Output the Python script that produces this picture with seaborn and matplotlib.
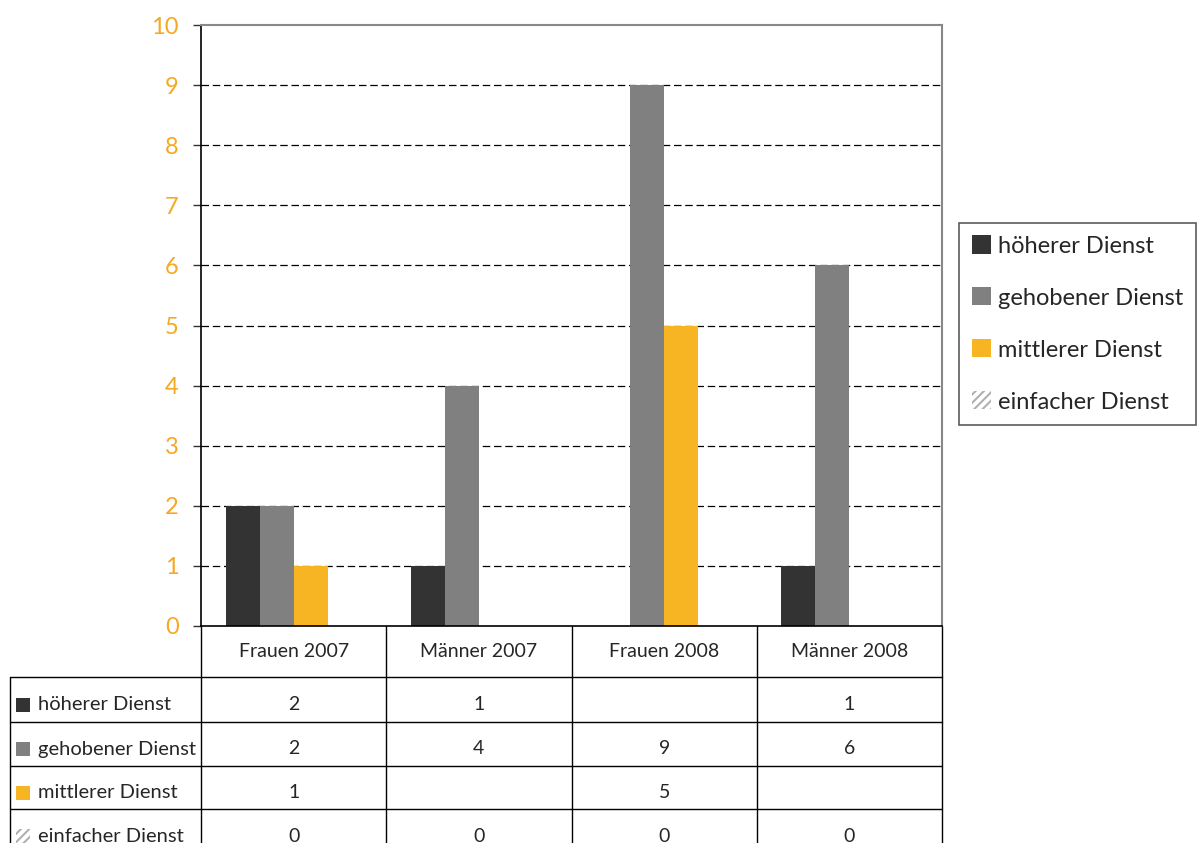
import numpy as np
import pandas as pd
import matplotlib
import matplotlib.pyplot as plt
import matplotlib.transforms as mtrans
from matplotlib.patches import Patch, Rectangle
import seaborn as sns

# data
groups = ['Frauen 2007', 'Männer 2007', 'Frauen 2008', 'Männer 2008']
levels = ['höherer Dienst', 'gehobener Dienst', 'mittlerer Dienst', 'einfacher Dienst']
hoeherer = [2, 1, np.nan, 1]
gehobener = [2, 4, 9, 6]
mittlerer = [1, np.nan, 5, np.nan]
einfacher = [0, 0, 0, 0]
y_ticks = list(range(0, 11))

colors = ['#333333', '#808080', '#F7B423', '#FFFFFF']
tick_color = '#F7A823'

sns.set_style('white')
plt.rcParams['font.family'] = ['Lato', 'DejaVu Sans']
plt.rcParams['hatch.color'] = '#B0B0B0'
plt.rcParams['hatch.linewidth'] = 1.5

rows = []
for lvl, vals in zip(levels, [hoeherer, gehobener, mittlerer, einfacher]):
    for g, v in zip(groups, vals):
        rows.append({'Gruppe': g, 'Dienst': lvl, 'Anzahl': v})
df = pd.DataFrame(rows)

fig = plt.figure(figsize=(11.97, 8.43), dpi=100)
ax = fig.add_axes([201 / 1197, 1 - 626 / 843, 741 / 1197, 601 / 843])

sns.barplot(data=df, x='Gruppe', y='Anzahl', hue='Dienst', order=groups, hue_order=levels,
            palette=colors, width=0.734, errorbar=None, legend=False, linewidth=0,
            saturation=1, ax=ax)

# hatch for einfacher Dienst bars
for cont, lvl in zip(ax.containers, levels):
    if lvl == 'einfacher Dienst':
        for bar in cont:
            bar.set_hatch('////')
            bar.set_edgecolor('#B0B0B0')
            bar.set_linewidth(0)

ax.set_xlim(-0.5, 3.5)
ax.set_ylim(0, 10)
ax.set_yticks(y_ticks)
ax.set_xticks([])
ax.set_xlabel('')
ax.set_ylabel('')
ax.tick_params(axis='y', colors='#333333', length=6, width=1, pad=10, left=True,
               labelsize=17, labelcolor=tick_color)

ax.grid(axis='y', color='black', linestyle=(0, (6, 3)), linewidth=0.9)
ax.set_axisbelow(True)
gl = ax.yaxis.get_gridlines()
gl[0].set_visible(False)
gl[-1].set_visible(False)

for s in ['left', 'bottom']:
    ax.spines[s].set_color('black')
    ax.spines[s].set_linewidth(1.2)
for s in ['top', 'right']:
    ax.spines[s].set_color('#888888')
    ax.spines[s].set_linewidth(1.5)

# legend
handles = [Patch(facecolor=c, edgecolor='none') for c in colors[:3]]
handles.append(Patch(facecolor='white', edgecolor='#B0B0B0', hatch='////', linewidth=0))
leg = fig.legend(handles, levels, loc='center left', bbox_to_anchor=(959 / 1197, 1 - 324 / 843),
                 fontsize=17, frameon=True, fancybox=False, edgecolor='#333333',
                 labelspacing=1.3, handlelength=0.8, handleheight=0.8, handletextpad=0.3,
                 borderpad=0.55, borderaxespad=0)
leg.get_frame().set_linewidth(1.2)

# data table below the axes
trans = mtrans.blended_transform_factory(ax.transData, ax.transAxes)
px_x = 3.5 - (-0.5)
unit = 741 / px_x          # px per data unit in x
left_edge = -0.5 - 191 / unit
row_lines = [0.0, -51 / 601, -96 / 601, -140 / 601, -183 / 601, -227 / 601]

lkw = dict(color='black', linewidth=1, transform=trans, clip_on=False)
# vertical lines
for xb in np.arange(-0.5, 4.0, 1.0):
    ax.plot([xb, xb], [0, row_lines[-1]], **lkw)
ax.plot([left_edge, left_edge], [row_lines[1], row_lines[-1]], **lkw)
# horizontal lines
for yb in row_lines[1:]:
    ax.plot([left_edge, 3.5], [yb, yb], **lkw)

# header
for i, g in enumerate(groups):
    ax.text(i, (row_lines[0] + row_lines[1]) / 2, g, transform=trans, ha='center', va='center',
            fontsize=14, clip_on=False)

sq_w = 14 / unit
sq_h = 14 / 601
for r, (lvl, vals, c) in enumerate(zip(levels, [hoeherer, gehobener, mittlerer, einfacher], colors)):
    yc = (row_lines[r + 1] + row_lines[r + 2]) / 2 - 5 / 601
    if lvl == 'einfacher Dienst':
        rect = Rectangle((left_edge + 6 / unit, yc - sq_h / 2), sq_w, sq_h, transform=trans,
                         facecolor='white', edgecolor='#B0B0B0', hatch='////', linewidth=0,
                         clip_on=False)
    else:
        rect = Rectangle((left_edge + 6 / unit, yc - sq_h / 2), sq_w, sq_h, transform=trans,
                         facecolor=c, edgecolor='none', clip_on=False)
    ax.add_patch(rect)
    ax.text(left_edge + 28 / unit, yc, lvl, transform=trans, ha='left', va='center',
            fontsize=14.5, clip_on=False)
    for i, v in enumerate(vals):
        if not np.isnan(v):
            ax.text(i, yc, f'{int(v)}', transform=trans, ha='center', va='center',
                    fontsize=14, clip_on=False)

fig.savefig('out.png', dpi=100)
